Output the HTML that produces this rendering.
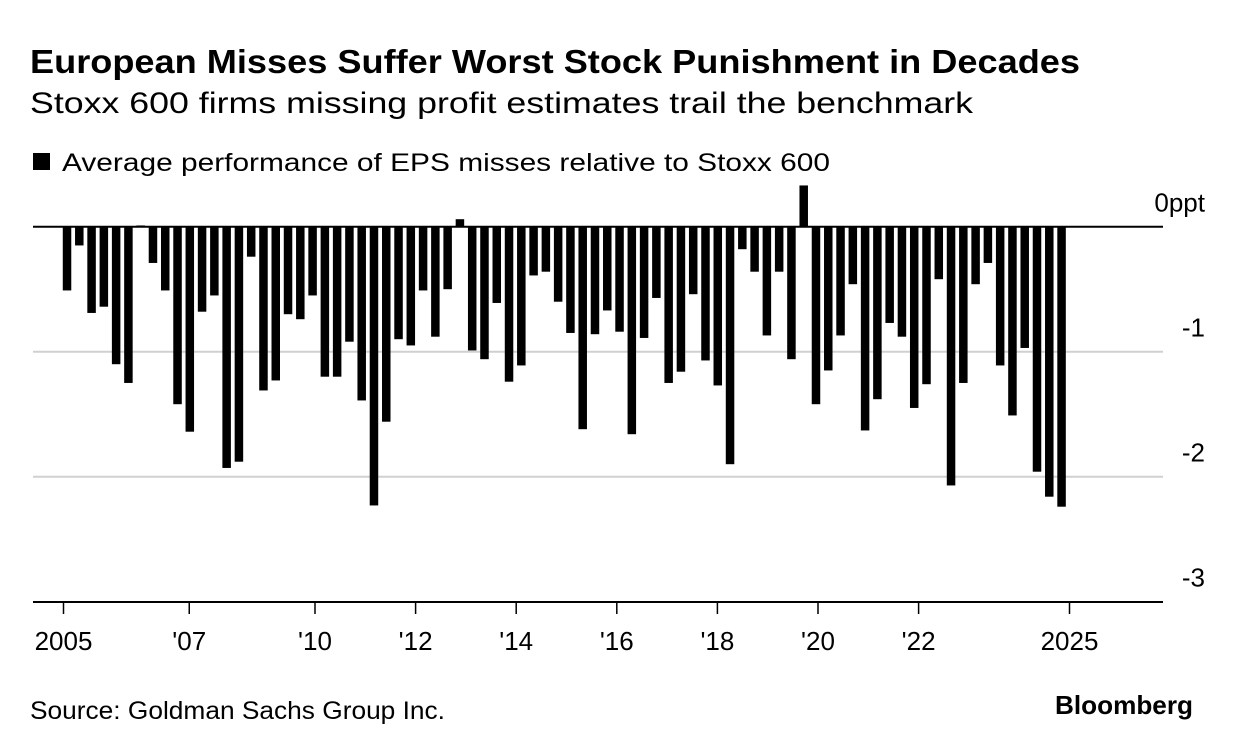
<!DOCTYPE html>
<html><head><meta charset="utf-8">
<style>
body{margin:0;background:#fff;width:1233px;height:750px;overflow:hidden;font-family:"Liberation Sans",sans-serif;}
svg text{font-family:"Liberation Sans",sans-serif;}
</style></head>
<body>
<svg width="1233" height="750">
<text x="30" y="73" font-size="33" font-weight="bold" fill="#000" textLength="1050" lengthAdjust="spacingAndGlyphs">European Misses Suffer Worst Stock Punishment in Decades</text>
<text x="30" y="113" font-size="30" fill="#000" textLength="943" lengthAdjust="spacingAndGlyphs">Stoxx 600 firms missing profit estimates trail the benchmark</text>
<rect x="33" y="153" width="17" height="17" fill="#000"/>
<text x="62" y="171" font-size="25" fill="#000" textLength="768" lengthAdjust="spacingAndGlyphs">Average performance of EPS misses relative to Stoxx 600</text>
<g id="grid"></g>
<g id="bars"></g>
<g id="axes"></g>
<text x="30" y="719" font-size="25" fill="#000" textLength="415" lengthAdjust="spacingAndGlyphs">Source: Goldman Sachs Group Inc.</text>
<text x="1193" y="714" font-size="26" font-weight="bold" fill="#000" text-anchor="end" textLength="138" lengthAdjust="spacingAndGlyphs">Bloomberg</text>
</svg>
<script>
const values = [-0.51,-0.15,-0.69,-0.64,-1.10,-1.25,0.01,-0.29,-0.51,-1.42,-1.64,-0.68,-0.55,-1.93,-1.88,-0.24,-1.31,-1.23,-0.70,-0.74,-0.55,-1.20,-1.20,-0.92,-1.39,-2.23,-1.56,-0.90,-0.95,-0.51,
-0.88,-0.50,0.06,-0.99,-1.06,-0.61,-1.24,-1.11,-0.39,-0.36,-0.60,-0.85,-1.62,-0.86,-0.67,-0.84,-1.66,-0.89,-0.57,-1.25,-1.16,-0.54,-1.07,-1.27,-1.90,-0.18,-0.36,-0.87,-0.36,-1.06,0.33,-1.42,
-1.15,-0.87,-0.46,-1.63,-1.38,-0.77,-0.88,-1.45,-1.26,-0.42,-2.07,-1.25,-0.46,-0.29,-1.11,-1.51,-0.97,-1.96,-2.16,-2.24];
const yTicks = [0,-1,-2,-3];
const yTickLabels = ["0ppt","-1","-2","-3"];
const xTickYears = [2005,2007.5,2010,2012,2014,2016,2018,2020,2022,2025];
const xTickLabels = ["2005","'07","'10","'12","'14","'16","'18","'20","'22","2025"];
const startYear = 2005.07, stepYear = 0.2441;

const NS="http://www.w3.org/2000/svg";
const y = v => 226.7 - v*125;
const x = yr => 63.5 + (yr-2005)*50.3;
function mk(tag, attrs, parent){const e=document.createElementNS(NS,tag);for(const k in attrs)e.setAttribute(k,attrs[k]);parent.appendChild(e);return e;}
const grid=document.getElementById('grid'), bars=document.getElementById('bars'), axes=document.getElementById('axes');
const L=33, R=1163;
yTicks.forEach((t,i)=>{
  if(t<0 && t>-3){
    const g=mk('line',{x1:L,x2:R,y1:y(t),y2:y(t),stroke:'#d0d0d0','stroke-width':2},grid);
    
    
  }
  const tx=mk('text',{x:R+42,y:y(t)-15,'font-size':26,'text-anchor':'end',fill:'#000'},axes);
  tx.textContent=yTickLabels[i];
  
  
});
values.forEach((v,i)=>{
  const cx=x(startYear+i*stepYear);
  const top=Math.min(y(0),y(v)), h=Math.abs(y(v)-y(0));
  const r=mk('rect',{x:cx-4.25,y:top,width:8.5,height:Math.max(h,1),fill:'#000'},bars);
  
  
});
const z=mk('line',{x1:L,x2:R,y1:y(0),y2:y(0),stroke:'#000','stroke-width':2},axes);


const ax=mk('line',{x1:L,x2:R,y1:602,y2:602,stroke:'#000','stroke-width':2},axes);


xTickYears.forEach((yr,i)=>{
  const t=mk('line',{x1:x(yr),x2:x(yr),y1:602,y2:614,stroke:'#000','stroke-width':1.5},axes);
  
  
  const tx=mk('text',{x:x(yr),y:650,'font-size':26,'text-anchor':'middle',fill:'#000'},axes);
  tx.textContent=xTickLabels[i];
  
  
});
</script>
</body></html>
